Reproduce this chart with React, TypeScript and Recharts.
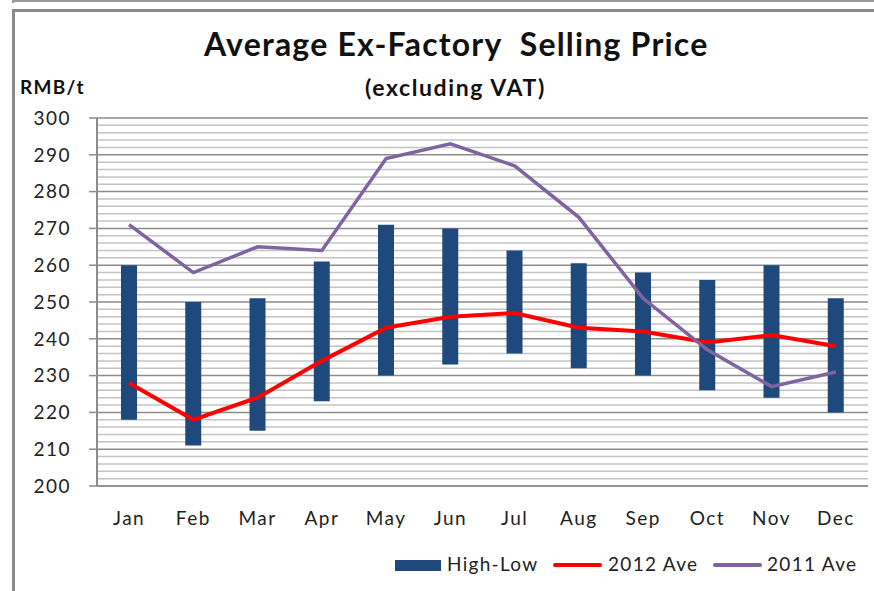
import React from 'react'
import { ComposedChart, Bar, Line, XAxis, YAxis, CartesianGrid } from 'recharts'

const months = ['Jan', 'Feb', 'Mar', 'Apr', 'May', 'Jun', 'Jul', 'Aug', 'Sep', 'Oct', 'Nov', 'Dec']
const highs = [260, 250, 251, 261, 271, 270, 264, 260.5, 258, 256, 260, 251]
const lows = [218, 211, 215, 223, 230, 233, 236, 232, 230, 226, 224, 220]
const ave2012 = [228, 218, 224, 234, 243, 246, 247, 243, 242, 239, 241, 238]
const ave2011 = [271, 258, 265, 264, 289, 293, 287, 273, 251, 237, 227, 231]
const yTicks = [200, 210, 220, 230, 240, 250, 260, 270, 280, 290, 300]
const Y_MIN = 200
const Y_MAX = 300

// minor gridlines every 2 RMB/t
const minorLines: number[] = []
for (let v = 202; v < 300; v += 2) if (v % 10 !== 0) minorLines.push(v)

const data = months.map((m, i) => ({
  month: m,
  range: [lows[i], highs[i]],
  a2012: ave2012[i],
  a2011: ave2011[i],
}))

const FONT = 'Lato, "Open Sans", sans-serif'
const tickStyle = { fontSize: 19, fill: '#222', fontFamily: FONT, letterSpacing: 1.5 }

const legendText = { position: 'absolute' as const, top: 552, fontSize: 19, letterSpacing: 1.3, color: '#222' }

const minorGen = (props: any) => {
  const off = props?.offset
  if (!off) return []
  return minorLines.map((v) => off.top + ((Y_MAX - v) / (Y_MAX - Y_MIN)) * off.height)
}

function LegendRow() {
  return (
    <>
      <div style={{ position: 'absolute', left: 395, top: 560, width: 46, height: 11, background: '#1f497d' }} />
      <div style={{ ...legendText, left: 447 }}>High-Low</div>
      <div style={{ position: 'absolute', left: 553, top: 563, width: 49, height: 4, borderRadius: 2, background: '#ff0000' }} />
      <div style={{ ...legendText, left: 608 }}>2012 Ave</div>
      <div style={{ position: 'absolute', left: 713, top: 563, width: 49, height: 4, borderRadius: 2, background: '#8064a2' }} />
      <div style={{ ...legendText, left: 767 }}>2011 Ave</div>
    </>
  )
}

export default function App() {
  return (
    <div style={{ position: 'absolute', left: 0, top: 0, width: 874, height: 591, background: '#fff', overflow: 'hidden', fontFamily: FONT }}>
      <div style={{ position: 'absolute', left: 12, top: 0, width: 862, height: 2, background: '#9a9a9a' }} />
      <div style={{ position: 'absolute', left: 12, top: 0, width: 2, height: 3, background: '#9a9a9a' }} />
      <div style={{ position: 'absolute', left: 12, top: 9, width: 862, height: 3, background: '#8a8a8a' }} />
      <div style={{ position: 'absolute', left: 12, top: 9, width: 3, height: 582, background: '#8a8a8a' }} />
      <div style={{ position: 'absolute', left: 204, top: 24, fontSize: 32, letterSpacing: 1.2, fontWeight: 700, color: '#111', whiteSpace: 'pre' }}>
        Average Ex-Factory  Selling Price
      </div>
      <div style={{ position: 'absolute', left: 365, top: 73, fontSize: 23, letterSpacing: 1.6, fontWeight: 700, color: '#111' }}>
        (excluding VAT)
      </div>
      <div style={{ position: 'absolute', left: 20, top: 75, fontSize: 19, letterSpacing: 1.3, fontWeight: 700, color: '#111' }}>RMB/t</div>
      <ComposedChart
        width={874}
        height={591}
        data={data}
        margin={{ top: 118, right: 6, left: 0, bottom: 65 }}
        style={{ position: 'absolute', left: 0, top: 0 }}
      >
        <CartesianGrid vertical={false} horizontalCoordinatesGenerator={minorGen} stroke="#c4c4c4" strokeWidth={1.5} />
        <CartesianGrid vertical={false} stroke="#8c8c8c" strokeWidth={1.5} />
        <XAxis
          dataKey="month"
          height={40}
          tickLine={false}
          tickSize={0}
          tickMargin={26}
          axisLine={{ stroke: '#8c8c8c', strokeWidth: 1.5 }}
          tick={tickStyle}
        />
        <YAxis
          width={97}
          domain={[Y_MIN, Y_MAX]}
          ticks={yTicks}
          tickSize={8}
          tickMargin={18}
          allowDataOverflow
          axisLine={{ stroke: '#8c8c8c', strokeWidth: 2 }}
          tickLine={{ stroke: '#8c8c8c', strokeWidth: 1.5 }}
          tick={tickStyle}
        />
        <Bar dataKey="range" name="High-Low" fill="#1f497d" barSize={16} isAnimationActive={false} />
        <Line dataKey="a2012" name="2012 Ave" type="linear" stroke="#ff0000" strokeWidth={4} dot={false} isAnimationActive={false} />
        <Line dataKey="a2011" name="2011 Ave" type="linear" stroke="#8064a2" strokeWidth={3.5} dot={false} isAnimationActive={false} />
      </ComposedChart>
      <LegendRow />
    </div>
  )
}
